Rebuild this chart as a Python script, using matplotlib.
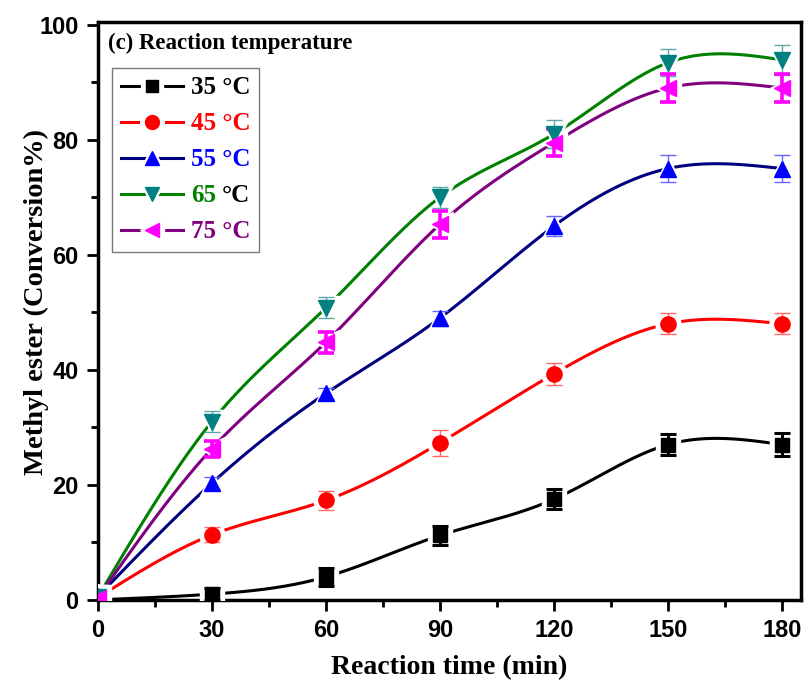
import numpy as np
import matplotlib
matplotlib.use('Agg')
from matplotlib import pyplot as plt
from matplotlib.ticker import MultipleLocator

time = [0, 30, 60, 90, 120, 150, 180]
labels = ['35 °C', '45 °C', '55 °C', '65 °C', '75 °C']
conv_35 = [0.0, 1.0, 4.0, 11.2, 17.5, 27.0, 27.0]
conv_45 = [0.4, 11.3, 17.3, 27.3, 39.3, 48.0, 48.0]
conv_55 = [0.6, 20.3, 35.9, 49.0, 65.0, 75.0, 75.0]
conv_65 = [0.5, 31.0, 50.8, 70.0, 81.0, 93.4, 93.9]
conv_75 = [0.4, 26.3, 44.8, 65.3, 79.5, 89.0, 89.0]
err_35 = [0.0, 1.0, 1.6, 1.6, 1.7, 1.8, 2.0]
err_45 = [0.0, 1.3, 1.7, 2.3, 1.9, 1.8, 1.8]
err_55 = [0.0, 1.0, 1.0, 1.3, 1.7, 2.3, 2.3]
err_65 = [0.0, 1.8, 1.8, 1.8, 2.4, 2.3, 2.6]
err_75 = [0.0, 1.4, 1.8, 2.3, 2.4, 2.5, 2.4]

line_colors = ['black', 'red', '#000080', '#008000', '#800080']
marker_colors = ['black', 'red', '#0000FF', '#008080', '#FF00FF']
err_colors = ['black', '#FF6666', '#6666FF', '#5FA8A8', '#FF00FF']
err_widths = [2.2, 1.0, 1.0, 1.0, 2.6]
text_colors = ['black', 'red', '#0000FF', '#008000', '#800080']
markers = ['s', 'o', '^', 'v', '<']
msizes = [10, 11, 11, 11, 11]


def natural_spline(x, y, xs):
    x = np.asarray(x, float)
    y = np.asarray(y, float)
    n = len(x)
    h = np.diff(x)
    A = np.zeros((n, n))
    b = np.zeros(n)
    A[0, 0] = 1
    A[-1, -1] = 1
    for i in range(1, n - 1):
        A[i, i - 1] = h[i - 1]
        A[i, i] = 2 * (h[i - 1] + h[i])
        A[i, i + 1] = h[i]
        b[i] = 6 * ((y[i + 1] - y[i]) / h[i] - (y[i] - y[i - 1]) / h[i - 1])
    M = np.linalg.solve(A, b)
    idx = np.clip(np.searchsorted(x, xs) - 1, 0, n - 2)
    x0, x1 = x[idx], x[idx + 1]
    hh = x1 - x0
    t0 = x1 - xs
    t1 = xs - x0
    return (M[idx] * t0 ** 3 / (6 * hh) + M[idx + 1] * t1 ** 3 / (6 * hh)
            + (y[idx] / hh - M[idx] * hh / 6) * t0
            + (y[idx + 1] / hh - M[idx + 1] * hh / 6) * t1)


fig = plt.figure(figsize=(8.09, 6.84), dpi=100)
ax = fig.add_axes([0.121, 0.123, 0.869, 0.845])

series = [conv_35, conv_45, conv_55, conv_65, conv_75]
errors = [err_35, err_45, err_55, err_65, err_75]
xs = np.linspace(0, 180, 400)
handles = []
for i in range(5):
    ys = natural_spline(time, series[i], xs)
    ax.plot(xs, ys, color=line_colors[i], lw=2.2, zorder=2)
    # white halo gives the gap between line and symbol
    ax.plot(time, series[i], ls='none', marker=markers[i], ms=msizes[i] + 7,
            color='white', mec='white', zorder=3)
    ax.errorbar(time, series[i], yerr=errors[i], fmt='none', ecolor=err_colors[i],
                elinewidth=err_widths[i], capsize=6, capthick=err_widths[i], zorder=4)
    ax.plot(time, series[i], ls='none', marker=markers[i], ms=msizes[i],
            color=marker_colors[i], mec=marker_colors[i], zorder=5)
    h_line, = ax.plot([], [], color=line_colors[i], lw=2.2)
    h_halo, = ax.plot([], [], ls='none', marker=markers[i], ms=msizes[i] + 6,
                      color='white', mec='white')
    h_mark, = ax.plot([], [], ls='none', marker=markers[i], ms=msizes[i] - 1,
                      color=marker_colors[i], mec=marker_colors[i])
    handles.append((h_line, h_halo, h_mark))

ax.set_xlim(0, 185)
ax.set_ylim(0, 100.5)
ax.xaxis.set_major_locator(MultipleLocator(30))
ax.xaxis.set_minor_locator(MultipleLocator(15))
ax.yaxis.set_major_locator(MultipleLocator(20))
ax.yaxis.set_minor_locator(MultipleLocator(10))
ax.tick_params(which='both', direction='out', width=2, top=False, right=False)
ax.tick_params(which='major', length=8, labelsize=17, pad=6)
ax.tick_params(which='minor', length=5)
for lab in ax.get_xticklabels() + ax.get_yticklabels():
    lab.set_fontfamily('Liberation Sans')
    lab.set_fontweight('bold')
for s in ax.spines.values():
    s.set_linewidth(2.5)

ax.set_xlabel('Reaction time (min)', fontsize=20, fontweight='bold',
              fontfamily='Liberation Serif')
ax.set_ylabel('Methyl ester (Conversion%)', fontsize=20.5, fontweight='bold',
              fontfamily='Liberation Serif')
ax.xaxis.set_label_coords(0.5, -0.096)
ax.yaxis.set_label_coords(-0.07, 0.515)
ax.text(0.014, 0.962, '(c) Reaction temperature', transform=ax.transAxes,
        fontsize=16.5, fontweight='bold', fontfamily='Liberation Serif', va='center')

leg_font = {'family': 'Liberation Serif', 'weight': 'bold', 'size': 18}
leg = ax.legend(handles, labels, loc='upper left', bbox_to_anchor=(0.02, 0.921),
                prop=leg_font, frameon=True, fancybox=False, edgecolor='#555555',
                handlelength=2.5, handletextpad=0.3, borderpad=0.35,
                labelspacing=0.52, borderaxespad=0)
leg.get_frame().set_linewidth(1.0)
for t, c in zip(leg.get_texts(), text_colors):
    t.set_color(c)

# in the original the degree sign of the 65 °C entry is black:
# keep only the number in the legend entry and write °C after it
fig.canvas.draw()
t65 = leg.get_texts()[3]
bb = t65.get_window_extent()
t65.set_text(labels[3].split(' ')[0])
fig.text(bb.x1, bb.y0, '°C', transform=None, ha='right', va='bottom',
         color='black', zorder=10, fontdict=leg_font)

fig.savefig('out.png', dpi=100)
